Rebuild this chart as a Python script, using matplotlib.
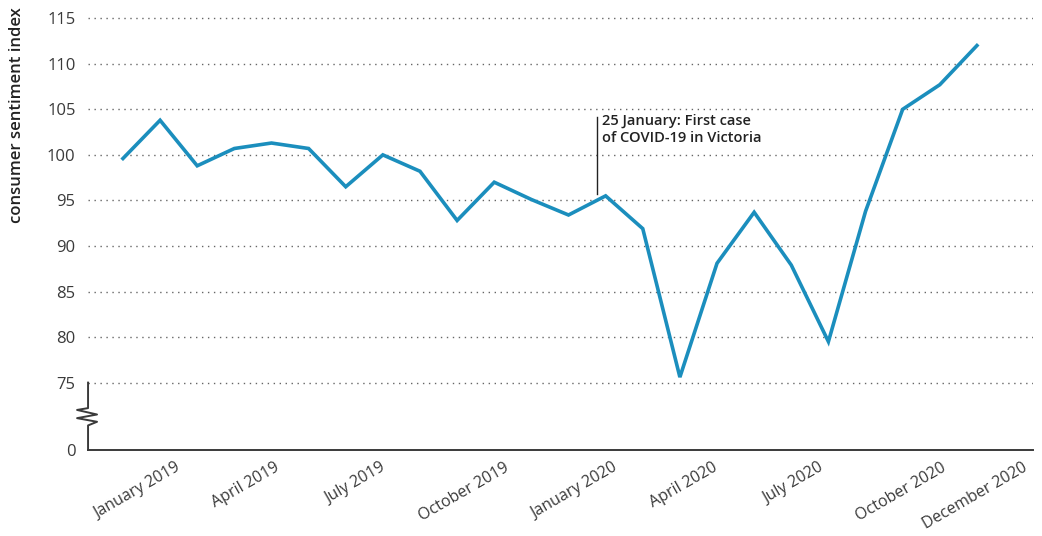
import numpy as np
import matplotlib.pyplot as plt
from matplotlib.transforms import blended_transform_factory

plt.rcParams['font.family'] = ['Open Sans', 'DejaVu Sans']

# Westpac consumer sentiment, monthly Jan 2019 - Dec 2020
months = ['Jan 2019', 'Feb 2019', 'Mar 2019', 'Apr 2019', 'May 2019', 'Jun 2019',
          'Jul 2019', 'Aug 2019', 'Sep 2019', 'Oct 2019', 'Nov 2019', 'Dec 2019',
          'Jan 2020', 'Feb 2020', 'Mar 2020', 'Apr 2020', 'May 2020', 'Jun 2020',
          'Jul 2020', 'Aug 2020', 'Sep 2020', 'Oct 2020', 'Nov 2020', 'Dec 2020']
sentiment = [99.6, 103.8, 98.8, 100.7, 101.3, 100.7, 96.5, 100.0, 98.2, 92.8, 97.0, 95.1,
             93.4, 95.5, 91.9, 75.6, 88.1, 93.7, 87.9, 79.5, 93.8, 105.0, 107.7, 112.0]

tick_labels = ['January 2019', 'April 2019', 'July 2019', 'October 2019', 'January 2020',
               'April 2020', 'July 2020', 'October 2020', 'December 2020']
# labels in the original sit slightly off the month points
tick_pos = [0.38, 3.31, 6.25, 9.18, 12.15, 15.11, 18.04, 20.95, 22.95]

y_ticks = [75, 80, 85, 90, 95, 100, 105, 110, 115]
zero_pos = 67.6  # where "0" sits below the axis break

event_x = 12 + 24 / 31  # 25 January 2020
event_text = '25 January: First case\nof COVID-19 in Victoria'

blue = '#1b8ebd'
dark = '#3a3a3a'

fig = plt.figure(figsize=(10.42, 5.36), dpi=100)
ax = fig.add_axes([0.0845, 0.1604, 0.9065, 0.8226])

x = np.arange(len(sentiment))
ax.plot(x, sentiment, color=blue, lw=2.6, solid_joinstyle='miter', zorder=3)

for yv in y_ticks:
    ax.axhline(yv, color='#666666', lw=1, ls=(0, (1, 3.3)), zorder=1)

ax.set_xlim(-0.94, 24.5)
ax.set_ylim(zero_pos, 116)

for s in ['top', 'right', 'left']:
    ax.spines[s].set_visible(False)
ax.spines['bottom'].set_color(dark)
ax.spines['bottom'].set_linewidth(1.4)
ax.spines['bottom'].set_position(('data', zero_pos))

# left axis with break zigzag
tr = blended_transform_factory(ax.transAxes, ax.transData)
dx = 1 / 945
zx = [0, 0, -11 * dx, 9 * dx, -11 * dx, 9 * dx, 0, 0]
zy = [75, 72.2, 72.0, 71.5, 71.1, 70.7, 70.3, zero_pos]
ax.plot(zx, zy, color=dark, lw=1.4, transform=tr, clip_on=False, zorder=4)

ax.set_yticks([zero_pos] + y_ticks)
ax.set_yticklabels(['0'] + [str(v) for v in y_ticks])
ax.tick_params(axis='y', length=0, pad=9, labelsize=12, labelcolor=dark)

ax.set_xticks(tick_pos)
ax.set_xticklabels(tick_labels, rotation=30, ha='center')
ax.tick_params(axis='x', length=0, pad=7, labelsize=11.5, labelcolor=dark)

ax.set_ylabel('consumer sentiment index', fontsize=12, fontweight='semibold',
              color='#222222')
ax.yaxis.set_label_coords(-0.067, 0.76)

# annotation
ax.plot([event_x, event_x], [95.7, 104.2], color='#222222', lw=1, zorder=2)
ax.text(event_x + 0.13, 104.5, event_text, fontsize=10.5, fontweight='semibold',
        color='#222222', va='top', ha='left', linespacing=1.3)

fig.savefig('out.png', dpi=100)
